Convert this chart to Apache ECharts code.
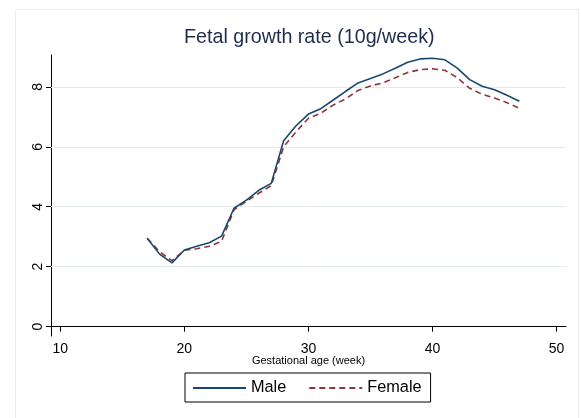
<!DOCTYPE html>
<html>
<head>
<meta charset="utf-8">
<script src="https://cdn.jsdelivr.net/npm/echarts@6/dist/echarts.min.js"></script>
<style>html,body{margin:0;padding:0;background:#fff;}#c{width:581px;height:418px;}</style>
</head>
<body>
<div id="c"></div>
<script>
const weeks  = [17,18,19,20,21,22,23,24,25,26,27,28,29,30,31,32,33,34,35,36,37,38,39,40,41,42,43,44,45,46,47];
const male   = [2.95,2.42,2.13,2.56,2.68,2.80,3.02,3.95,4.22,4.55,4.78,6.20,6.70,7.09,7.27,7.56,7.85,8.13,8.28,8.43,8.62,8.82,8.93,8.95,8.90,8.62,8.24,8.02,7.90,7.72,7.52];
const female = [2.95,2.50,2.20,2.55,2.60,2.68,2.85,3.90,4.18,4.45,4.70,6.00,6.50,6.95,7.12,7.39,7.60,7.88,8.03,8.13,8.30,8.48,8.57,8.60,8.55,8.30,7.95,7.75,7.63,7.47,7.28];
const xTicks = [10,20,30,40,50];
const yTicks = [0,2,4,6,8];
const gridVals = [2,4,6,8];
const titleText = 'Fetal growth rate (10g/week)';
const xName = 'Gestational age (week)';
const seriesNames = ['Male','Female'];

const chart = echarts.init(document.getElementById('c'), null, {renderer:'canvas'});
const font = 'Arial, "Liberation Sans", sans-serif';
chart.setOption({
  animation:false,
  backgroundColor:'#fff',
  graphic:[{type:'rect', shape:{x:15.5,y:9.5,width:563,height:420}, style:{fill:'none', stroke:'#e8eef1', lineWidth:1}, silent:true, z:-1}],
  title:{text:titleText, left:184, top:28, padding:0, textStyle:{fontFamily:font, fontSize:19.7, fontWeight:'normal', color:'#1f2d4d'}},
  grid:{left:51, right:15, top:55, bottom:82, containLabel:false},
  legend:{
    data:seriesNames, left:185, top:373, orient:'horizontal',
    borderColor:'#000', borderWidth:1, padding:[7,9,6,7], itemGap:22,
    itemWidth:53, itemHeight:14, backgroundColor:'#fff',
    itemStyle:{opacity:0},
    textStyle:{fontFamily:font, fontSize:16.3, color:'#000'}
  },
  xAxis:{
    type:'value', min:9.25, max:50.76,
    name:xName, nameLocation:'middle', nameGap:19, nameMoveOverlap:false,
    nameTextStyle:{fontFamily:font, fontSize:11, color:'#000'},
    axisLine:{show:true, lineStyle:{color:'#000', width:1}},
    axisTick:{show:true, length:5, customValues:xTicks, lineStyle:{color:'#000'}},
    axisLabel:{show:true, customValues:xTicks, margin:6, fontFamily:font, fontSize:14, color:'#000'},
    splitLine:{show:false}
  },
  yAxis:{
    type:'value', min:-0.31, max:9.06,
    axisLine:{show:true, lineStyle:{color:'#000', width:1}},
    axisTick:{show:true, length:5, customValues:yTicks, lineStyle:{color:'#000'}},
    axisLabel:{show:true, customValues:yTicks, rotate:90, margin:6, fontFamily:font, fontSize:14, color:'#000'},
    splitLine:{show:false}
  },
  series:[
    {name:seriesNames[0], type:'line', data:weeks.map((w,i)=>[w,male[i]]), showSymbol:false, symbol:'none',
     lineStyle:{color:'#1a476f', width:1.6}, itemStyle:{color:'#1a476f'}, z:3,
     markLine:{silent:true, symbol:'none', label:{show:false}, lineStyle:{color:'#e3eaed', width:1, type:'solid'},
       data:gridVals.map(v=>({yAxis:v})), z:1}},
    {name:seriesNames[1], type:'line', data:weeks.map((w,i)=>[w,female[i]]), showSymbol:false, symbol:'none',
     lineStyle:{color:'#90353b', width:1.6, type:[6,4]}, itemStyle:{color:'#90353b'}, z:2}
  ]
});
</script>
</body>
</html>
